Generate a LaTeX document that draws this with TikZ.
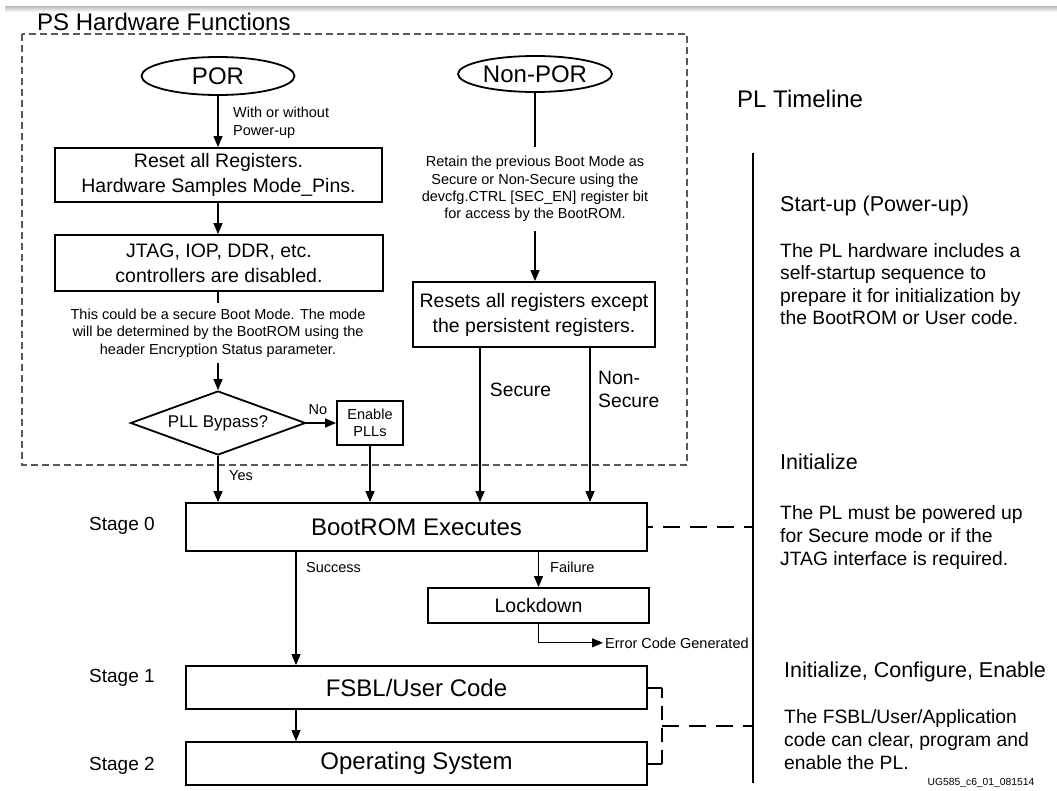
\documentclass[tikz,border=0pt]{standalone}
\usepackage{fontspec}
\setmainfont{Liberation Sans}
\usetikzlibrary{shapes.geometric,arrows.meta,calc}

% type sizes
\newcommand\fsTitle{\fontsize{24}{28}\selectfont}
\newcommand\fsBox{\fontsize{19.5}{25}\selectfont}
\newcommand\fsNote{\fontsize{14.5}{17.6}\selectfont}
\newcommand\fsHead{\fontsize{21.5}{26}\selectfont}
\newcommand\fsPara{\fontsize{19.3}{22.6}\selectfont}
\newcommand\fsTag{\fontsize{10.3}{12}\selectfont}

\begin{document}
\begin{tikzpicture}[x=1pt,y=-1pt,
  stepbox/.style={draw, line width=1.8pt, inner sep=0pt, align=center, font=\fsBox},
  oval/.style={draw, ellipse, line width=1.8pt, inner sep=0pt, font=\fsTitle},
  note/.style={inner sep=0pt, align=center, font=\fsNote},
  arr/.style={line width=1.2pt, -{Triangle[length=11pt,width=9pt]}},
  link/.style={line width=1.2pt},
  tl/.style={line width=2pt},
  tldash/.style={line width=2pt, dash pattern=on 17pt off 10pt},
  label/.style={inner sep=0pt, font=\fsNote},
]
\useasboundingbox (0,0) rectangle (1057,790);

% page rule along the top
\shade[top color=gray!55, bottom color=white] (5,6) rectangle (1057,12);

% ---------- PS hardware functions ----------
\node[anchor=base west, inner sep=0pt, font=\fsTitle] (pstitle) at (37,30) {PS Hardware Functions};
\draw[gray!70!black, line width=1.2pt, dash pattern=on 7pt off 4pt] (22,34) rectangle (687,465);

\node[oval, minimum width=153pt, minimum height=38pt] (por) at (218,76) {POR};
\node[oval, minimum width=154pt, minimum height=36pt] (npor) at (535,74) {Non-POR};

\node[stepbox, minimum width=327pt, minimum height=54pt] (reset) at (218.5,175)
  {Reset all Registers.\\Hardware Samples Mode\_Pins.};
\node[stepbox, minimum width=328pt, minimum height=56pt] (jtag) at (219,263)
  {JTAG, IOP, DDR, etc.\\controllers are disabled.};
\node[note, inner ysep=5pt] (secnote) at (218,333)
  {This could be a secure Boot Mode. The mode\\will be determined by the BootROM using the\\header Encryption Status parameter.};
\node[draw, diamond, aspect=2.73, minimum width=175pt, minimum height=64pt, inner sep=0pt,
  line width=1.8pt, font=\fontsize{17}{20}\selectfont] (bypass) at (218,423) {PLL Bypass?};
\node[stepbox, font=\fsNote, align=center, minimum width=66pt, minimum height=44pt] (epll) at (370,423)
  {Enable\\PLLs};

\node[note, inner ysep=9pt, font=\fontsize{14.5}{17.3}\selectfont] (retain) at (535,189)
  {Retain the previous Boot Mode as\\Secure or Non-Secure using the\\devcfg.CTRL [SEC\_EN] register bit\\for access by the BootROM.};
\node[stepbox, minimum width=242pt, minimum height=65pt] (nreset) at (534,314.5)
  {Resets all registers except\\the persistent registers.};

% ---------- boot stages ----------
\node[stepbox, font=\fsTitle, minimum width=461pt, minimum height=48pt] (boot) at (416.5,527) {BootROM Executes};
\node[stepbox, minimum width=221pt, minimum height=35pt] (lock) at (538.5,605.5) {Lockdown};
\node[stepbox, font=\fsTitle, minimum width=461pt, minimum height=43pt] (fsbl) at (416.5,687.5) {FSBL/User Code};
\node[stepbox, font=\fsTitle, minimum width=461pt, minimum height=43pt] (os) at (416.5,763.5) {Operating System};

\node[anchor=base west, inner sep=0pt, font=\fontsize{19}{22}\selectfont] (st0) at (89,530) {Stage 0};
\node[anchor=base west, inner sep=0pt, font=\fontsize{19}{22}\selectfont] (st1) at (89,682) {Stage 1};
\node[anchor=base west, inner sep=0pt, font=\fontsize{19}{22}\selectfont] (st2) at (89,770) {Stage 2};

% ---------- connectors ----------
\draw[arr] (por.south) -- (reset.north -| por.south);
\node[label, anchor=west, align=left] (pwr) at (233,123) {With or without\\Power-up};
\draw[arr] (reset.south -| por.south) -- (jtag.north -| por.south);
\draw[link] (jtag.south -| secnote.north) -- (secnote.north);
\draw[arr] (secnote.south) -- (bypass.north);
\draw[arr] (bypass.east) -- (epll.west);
\node[label, anchor=base] (no) at (318,414) {No};
\draw[arr] (bypass.south) -- (bypass.south |- boot.north);
\node[label, anchor=base] (yes) at (241,480) {Yes};
\draw[arr] (epll.south) -- (epll.south |- boot.north);

\draw[link] (npor.south) -- (retain.north);
\draw[arr] (retain.south) -- (retain.south |- nreset.north);
\draw[arr] ([xshift=-54pt]nreset.south) -- ([xshift=-54pt]nreset.south |- boot.north);
\draw[arr] ([xshift=56pt]nreset.south) -- ([xshift=56pt]nreset.south |- boot.north);
\node[anchor=base, inner sep=0pt, font=\fsPara] (secure) at (520.5,396) {Secure};
\node[anchor=west, inner sep=0pt, align=left, font=\fontsize{19.3}{23}\selectfont] (nsecure) at (598,389.5) {Non-\\Secure};

\draw[arr] ([xshift=-120.5pt]boot.south) -- ([xshift=-120.5pt]boot.south |- fsbl.north);
\node[label, anchor=base west] (succ) at (306,572) {Success};
\draw[arr] (lock.north |- boot.south) -- (lock.north);
\node[label, anchor=base west] (fail) at (550,572) {Failure};
\node[label, anchor=base west] (err) at (605,648) {Error Code Generated};
\draw[arr] (lock.south) |- ([xshift=-2pt]err.west);
\draw[arr] ([xshift=-120.5pt]fsbl.south) -- ([xshift=-120.5pt]fsbl.south |- os.north);

% ---------- PL timeline ----------
\node[anchor=base west, inner sep=0pt, font=\fsTitle] (pltitle) at (737,107.5) {PL Timeline};
\coordinate (tltop) at (753,153);
\coordinate (tlbot) at (753,783);
\draw[tl] (tltop) -- (tlbot);

\node[anchor=base west, inner sep=0pt, font=\fsHead] (h1) at (780,211.5) {Start-up (Power-up)};
\node[anchor=west, inner sep=0pt, align=left, font=\fsPara] (p1) at (780,284)
  {The PL hardware includes a\\self-startup sequence to\\prepare it for initialization by\\the BootROM or User code.};
\node[anchor=base west, inner sep=0pt, font=\fsHead] (h2) at (780,469.5) {Initialize};
\node[anchor=west, inner sep=0pt, align=left, font=\fsPara] (p2) at (780,537.5)
  {The PL must be powered up\\for Secure mode or if the\\JTAG interface is required.};
\node[anchor=base west, inner sep=0pt, font=\fsHead] (h3) at (784,677.5) {Initialize, Configure, Enable};
\node[anchor=west, inner sep=0pt, align=left, font=\fsPara] (p3) at (784,739.5)
  {The FSBL/User/Application\\code can clear, program and\\enable the PL.};
\node[inner sep=0pt, font=\fsTag] (tag) at (981,783) {UG585\_c6\_01\_081514};

% stage links onto the timeline
\draw[tldash, dash phase=12pt] (boot.east) -- (boot.east -| tltop);
\draw[tl] (fsbl.east) -- ++(14,0) coordinate (b1);
\draw[tl] (os.east) -- ++(14,0) coordinate (b2);
\draw[tldash, dash pattern=on 14pt off 8pt, dash phase=4pt] (b1) -- (b2);
\coordinate (bm) at ($(b1)!0.5!(b2)$);
\draw[tldash] (bm) -- (bm -| tltop);
\end{tikzpicture}
\end{document}
